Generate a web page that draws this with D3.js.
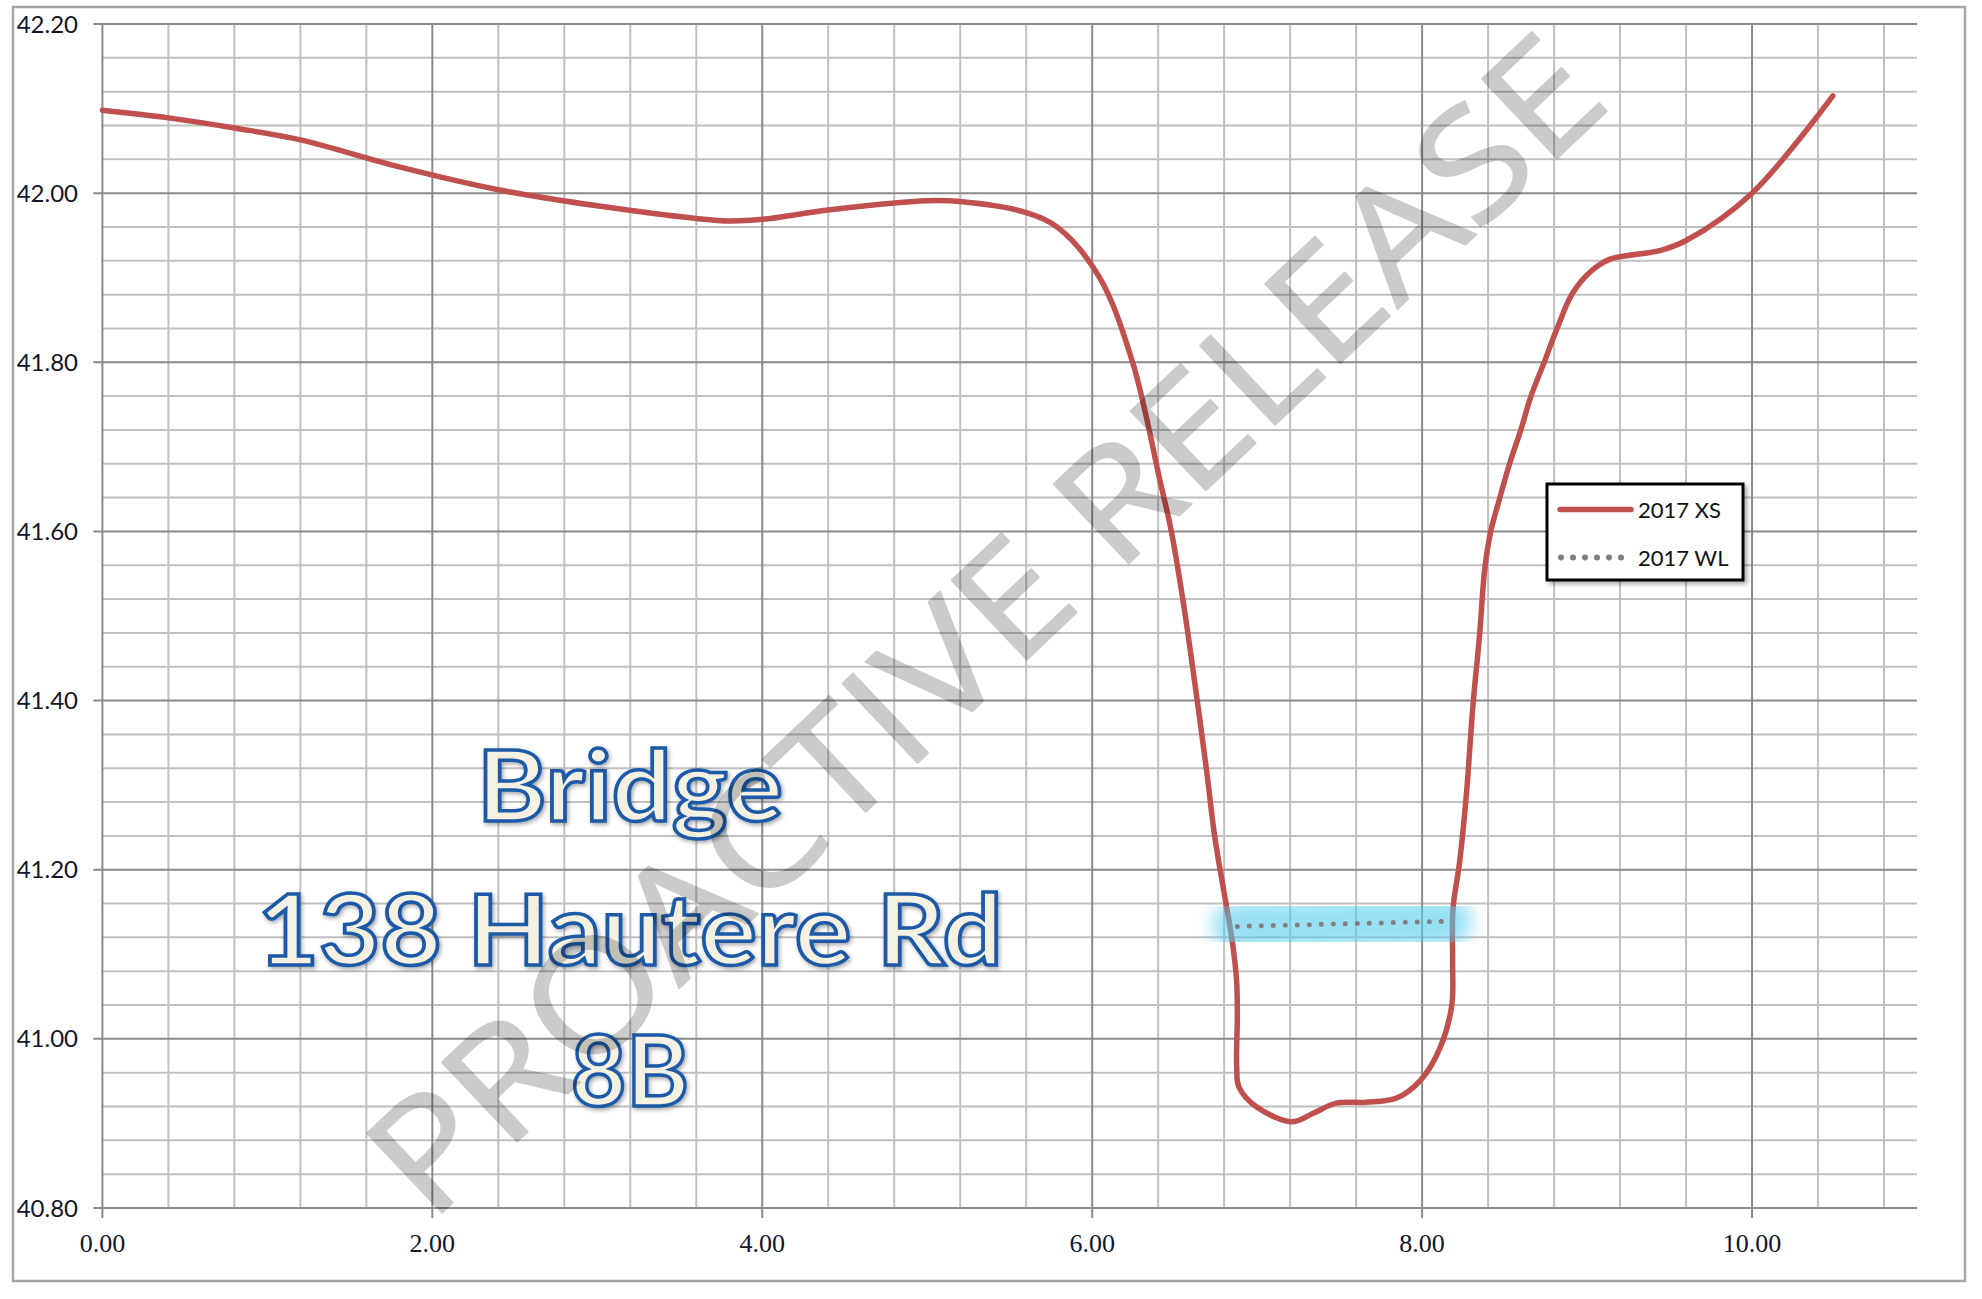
<!DOCTYPE html>
<html>
<head>
<meta charset="utf-8">
<script src="https://cdn.jsdelivr.net/npm/d3@7"></script>
<style>
  body { margin: 0; background: #fff; }
</style>
</head>
<body>
<div id="chart"></div>
<script>
var W = 1982, H = 1299;
var plot = { left: 102.4, right: 1917, top: 24, bottom: 1208 };

// 2017 cross section (chainage, level)
var xsStation = [0, 0.4, 0.8, 1.2, 1.8, 2.4, 3.0, 3.6, 3.8, 4.0, 4.4, 5.0, 5.2, 5.6, 5.8,
    6.045, 6.245, 6.41, 6.48, 6.55, 6.61, 6.693, 6.743, 6.804, 6.846, 6.875, 6.88, 6.876, 6.89,
    7.0, 7.215, 7.34, 7.48, 7.66, 7.845, 7.99, 8.11, 8.18, 8.185, 8.187, 8.228, 8.268,
    8.309, 8.349, 8.38, 8.416, 8.47, 8.53, 8.60, 8.66, 8.74, 8.82, 8.91, 9.02, 9.14,
    9.44, 9.6, 10.0, 10.49];
var xsLevel = [42.098, 42.089, 42.077, 42.063, 42.031, 42.004, 41.985, 41.970, 41.967, 41.969, 41.980, 41.991, 41.990, 41.977, 41.958,
    41.900, 41.800, 41.661, 41.600, 41.519, 41.438, 41.318, 41.239, 41.168, 41.120, 41.070, 41.030, 40.967, 40.943,
    40.919, 40.902, 40.912, 40.924, 40.925, 40.930, 40.951, 40.990, 41.040, 41.090, 41.153, 41.210, 41.288,
    41.396, 41.479, 41.556, 41.600, 41.639, 41.680, 41.721, 41.760, 41.800, 41.841, 41.881, 41.907, 41.922,
    41.932, 41.944, 42.000, 42.115];

// 2017 water level
var wlStation = [6.88, 8.15];
var wlLevel = [41.133, 41.139];

var seriesNames = ["2017 XS", "2017 WL"];
var xTicks = [0, 2, 4, 6, 8, 10];
var yTicks = [40.8, 41.0, 41.2, 41.4, 41.6, 41.8, 42.0, 42.2];
var labelLines = ["Bridge", "138 Hautere Rd", "8B"];
var watermark = "PROACTIVE RELEASE";

var svg = d3.select("#chart").append("svg")
    .attr("width", W)
    .attr("height", H)
    .style("display", "block");

var defs = svg.append("defs");
defs.append("filter").attr("id", "glow")
    .attr("x", "-20%").attr("y", "-300%").attr("width", "140%").attr("height", "700%")
    .append("feGaussianBlur").attr("stdDeviation", 9);
defs.append("filter").attr("id", "shadow")
    .append("feDropShadow")
    .attr("dx", 1.5).attr("dy", 2).attr("stdDeviation", 2)
    .attr("flood-color", "#000").attr("flood-opacity", 0.35);
defs.append("filter").attr("id", "boxshadow")
    .append("feDropShadow")
    .attr("dx", 3).attr("dy", 3).attr("stdDeviation", 2)
    .attr("flood-color", "#000").attr("flood-opacity", 0.3);

svg.append("rect")
    .attr("x", 13).attr("y", 7)
    .attr("width", 1952).attr("height", 1274)
    .attr("fill", "#fff")
    .attr("stroke", "#a6a6a6")
    .attr("stroke-width", 2.5);

var x = d3.scaleLinear().domain([0, 11]).range([plot.left, plot.right]);
var y = d3.scaleLinear().domain([40.8, 42.2]).range([plot.bottom, plot.top]);

// minor grid, every 0.4 across and 0.04 up
var minorX = d3.range(1, 28).map(function(i){ return i * 0.4; }).filter(function(d){ return Math.abs(d / 2 - Math.round(d / 2)) > 1e-6; });
var minorY = d3.range(1, 35).map(function(i){ return 40.8 + i * 0.04; }).filter(function(d){ return Math.abs((d - 40.8) / 0.2 - Math.round((d - 40.8) / 0.2)) > 1e-6; });

var grid = svg.append("g");
grid.selectAll(".vminor").data(minorX).enter().append("line")
    .attr("x1", function(d){ return x(d); }).attr("x2", function(d){ return x(d); })
    .attr("y1", plot.top).attr("y2", plot.bottom)
    .attr("stroke", "#c0c0c0").attr("stroke-width", 2);
grid.selectAll(".hminor").data(minorY).enter().append("line")
    .attr("x1", plot.left).attr("x2", plot.right)
    .attr("y1", function(d){ return y(d); }).attr("y2", function(d){ return y(d); })
    .attr("stroke", "#c0c0c0").attr("stroke-width", 2);

// major grid (with the little tick stubs)
grid.selectAll(".vmajor").data(xTicks).enter().append("line")
    .attr("x1", function(d){ return x(d); }).attr("x2", function(d){ return x(d); })
    .attr("y1", plot.top).attr("y2", plot.bottom + 10)
    .attr("stroke", "#8a8a8a").attr("stroke-width", 2);
grid.selectAll(".hmajor").data(yTicks).enter().append("line")
    .attr("x1", plot.left - 9).attr("x2", plot.right)
    .attr("y1", function(d){ return y(d); }).attr("y2", function(d){ return y(d); })
    .attr("stroke", "#8a8a8a").attr("stroke-width", 2);

// axis labels
svg.append("g").selectAll("text").data(yTicks).enter().append("text")
    .attr("x", 78)
    .attr("y", function(d){ return y(d); })
    .attr("dy", "0.36em")
    .attr("text-anchor", "end")
    .style("font-family", "Lato, 'Open Sans', sans-serif")
    .style("font-size", "24px")
    .attr("fill", "#14142a")
    .text(function(d){ return d3.format(".2f")(d); });

svg.append("g").selectAll("text").data(xTicks).enter().append("text")
    .attr("x", function(d){ return x(d); })
    .attr("y", 1252)
    .attr("text-anchor", "middle")
    .style("font-family", "'Liberation Serif', serif")
    .style("font-size", "26px")
    .attr("fill", "#14142a")
    .text(function(d){ return d3.format(".2f")(d); });

// series
var xsData = xsStation.map(function(d, i){ return [d, xsLevel[i]]; });
var wlData = wlStation.map(function(d, i){ return [d, wlLevel[i]]; });

var line = d3.line()
    .x(function(d){ return x(d[0]); })
    .y(function(d){ return y(d[1]); })
    .curve(d3.curveCatmullRom.alpha(0.5));
var straight = d3.line()
    .x(function(d){ return x(d[0]); })
    .y(function(d){ return y(d[1]); });

svg.append("path")
    .datum(xsData)
    .attr("d", line)
    .attr("fill", "none")
    .attr("stroke", "#c0504d")
    .attr("stroke-width", 5.5)
    .attr("stroke-linecap", "round")
    .attr("stroke-linejoin", "round");

// glow round the water level
svg.append("path")
    .datum(wlData)
    .attr("d", straight)
    .attr("fill", "none")
    .attr("stroke", "#52cdee")
    .attr("stroke-opacity", 0.6)
    .attr("stroke-width", 50)
    .attr("stroke-linecap", "round")
    .attr("filter", "url(#glow)");

svg.append("path")
    .datum(wlData)
    .attr("d", straight)
    .attr("fill", "none")
    .attr("stroke", "#808080")
    .attr("stroke-width", 5)
    .attr("stroke-linecap", "round")
    .attr("stroke-dasharray", "0 12");

// legend
var legend = svg.append("g");
legend.append("rect")
    .attr("x", 1547).attr("y", 484)
    .attr("width", 196).attr("height", 96)
    .attr("fill", "#fff")
    .attr("stroke", "#000")
    .attr("stroke-width", 3)
    .attr("filter", "url(#boxshadow)");
legend.append("line")
    .attr("x1", 1560).attr("x2", 1631).attr("y1", 509.5).attr("y2", 509.5)
    .attr("stroke", "#c0504d").attr("stroke-width", 5.5).attr("stroke-linecap", "round");
legend.append("line")
    .attr("x1", 1561).attr("x2", 1626).attr("y1", 557.5).attr("y2", 557.5)
    .attr("stroke", "#808080").attr("stroke-width", 6)
    .attr("stroke-linecap", "round").attr("stroke-dasharray", "0 12");
legend.selectAll("text").data(seriesNames).enter().append("text")
    .attr("x", 1638)
    .attr("y", function(d, i){ return 517.5 + i * 48; })
    .style("font-family", "Lato, 'Open Sans', sans-serif")
    .style("font-size", "22px")
    .attr("fill", "#111")
    .text(function(d){ return d; });

// site label
var labelY = [821, 965, 1106];
var labelW = [306, 745, 118];
svg.append("g").attr("filter", "url(#shadow)")
    .selectAll("text").data(labelLines).enter().append("text")
    .attr("x", 630)
    .attr("y", function(d, i){ return labelY[i]; })
    .attr("text-anchor", "middle")
    .attr("textLength", function(d, i){ return labelW[i]; })
    .attr("lengthAdjust", "spacingAndGlyphs")
    .style("font-family", "Lato, 'Open Sans', sans-serif")
    .style("font-weight", 700)
    .style("font-size", "98px")
    .attr("fill", "#f4f1e3")
    .attr("stroke", "#1d5aa8")
    .attr("stroke-width", 3.5)
    .text(function(d){ return d; });

// watermark, drawn over everything
svg.append("g")
    .attr("opacity", 0.2)
    .append("text")
    .attr("transform", "translate(430,1224) rotate(-43.4)")
    .attr("textLength", 1630)
    .attr("lengthAdjust", "spacingAndGlyphs")
    .style("font-family", "'Open Sans', sans-serif")
    .style("font-size", "153px")
    .attr("fill", "#000")
    .attr("stroke", "#000")
    .attr("stroke-width", 2)
    .attr("stroke-linejoin", "round")
    .text(watermark);
</script>
</body>
</html>
